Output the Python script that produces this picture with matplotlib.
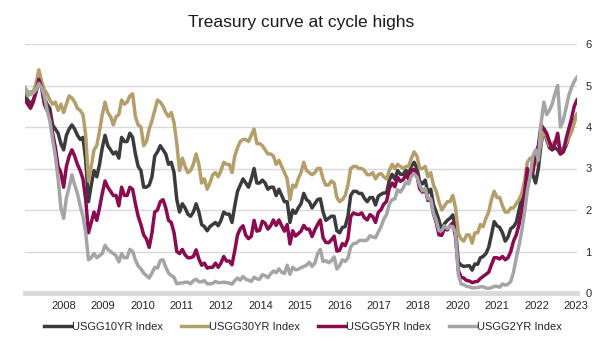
import numpy as np
import matplotlib
matplotlib.use("Agg")
import matplotlib.pyplot as plt

plt.rcParams['font.family'] = ['Liberation Sans', 'DejaVu Sans']

# monthly yields, Jan 2007 .. Sep 2023 (one row per year)
usgg10 = [
    4.75, 4.65, 4.55, 4.65, 4.85, 5.15, 5.00, 4.70, 4.55, 4.45, 4.05, 3.95,
    3.85, 3.60, 3.45, 3.80, 3.95, 4.05, 3.95, 3.80, 3.70, 3.75, 3.20, 2.20,
    2.60, 2.95, 2.80, 3.10, 3.50, 3.80, 3.55, 3.45, 3.35, 3.40, 3.25, 3.75,
    3.65, 3.65, 3.85, 3.75, 3.35, 3.05, 2.95, 2.55, 2.55, 2.60, 2.80, 3.30,
    3.40, 3.55, 3.45, 3.35, 3.10, 3.15, 2.90, 2.25, 1.95, 2.15, 2.05, 1.90,
    1.85, 1.95, 2.15, 1.95, 1.65, 1.60, 1.50, 1.60, 1.65, 1.70, 1.62, 1.75,
    1.95, 1.90, 1.90, 1.70, 2.10, 2.45, 2.60, 2.75, 2.65, 2.55, 2.75, 3.00,
    2.65, 2.65, 2.72, 2.65, 2.50, 2.55, 2.55, 2.35, 2.50, 2.35, 2.20, 2.20,
    1.70, 2.00, 1.92, 2.05, 2.15, 2.40, 2.25, 2.20, 2.05, 2.15, 2.25, 2.27,
    1.95, 1.75, 1.80, 1.85, 1.85, 1.50, 1.45, 1.58, 1.60, 1.85, 2.35, 2.45,
    2.45, 2.40, 2.40, 2.28, 2.20, 2.30, 2.30, 2.12, 2.33, 2.38, 2.41, 2.41,
    2.72, 2.86, 2.74, 2.95, 2.86, 2.86, 2.96, 2.86, 3.06, 3.15, 3.01, 2.69,
    2.63, 2.72, 2.41, 2.50, 2.13, 1.95, 1.75, 1.50, 1.67, 1.75, 1.80, 1.88,
    1.55, 0.75, 0.67, 0.64, 0.65, 0.66, 0.55, 0.70, 0.69, 0.85, 0.88, 0.95,
    1.10, 1.40, 1.72, 1.62, 1.58, 1.45, 1.25, 1.35, 1.55, 1.60, 1.70, 2.00,
    2.30, 2.55, 2.80, 2.95, 2.85, 2.65, 3.00, 3.60, 3.95, 3.70, 3.50, 3.45,
    3.50, 3.45, 3.35, 3.40, 3.55, 3.75, 3.90, 4.15, 4.30,
]
usgg30 = [
    4.90, 4.75, 4.85, 4.85, 5.05, 5.38, 5.10, 4.90, 4.80, 4.65, 4.55, 4.60,
    4.40, 4.55, 4.35, 4.55, 4.75, 4.70, 4.60, 4.45, 4.40, 4.30, 3.80, 2.70,
    3.05, 3.45, 3.55, 3.90, 4.30, 4.60, 4.35, 4.25, 4.05, 4.25, 4.30, 4.65,
    4.55, 4.60, 4.75, 4.80, 4.25, 4.05, 4.00, 3.55, 3.65, 3.95, 4.15, 4.40,
    4.65, 4.60, 4.50, 4.35, 4.25, 4.35, 4.10, 3.60, 2.95, 3.25, 3.05, 2.90,
    2.95, 3.10, 3.35, 3.10, 2.65, 2.75, 2.50, 2.65, 2.85, 2.90, 2.80, 2.95,
    3.15, 3.10, 3.10, 2.90, 3.30, 3.50, 3.65, 3.70, 3.70, 3.65, 3.80, 3.95,
    3.60, 3.60, 3.55, 3.45, 3.35, 3.35, 3.30, 3.10, 3.20, 3.05, 2.90, 2.75,
    2.25, 2.60, 2.55, 2.75, 2.90, 3.15, 2.95, 2.90, 2.85, 2.90, 3.00, 3.00,
    2.75, 2.60, 2.60, 2.70, 2.65, 2.30, 2.20, 2.25, 2.35, 2.60, 3.00, 3.05,
    3.05, 3.00, 3.00, 2.95, 2.85, 2.85, 2.90, 2.75, 2.85, 2.88, 2.80, 2.75,
    2.95, 3.10, 3.00, 3.10, 3.05, 3.00, 3.05, 3.05, 3.25, 3.40, 3.30, 3.00,
    3.00, 3.05, 2.80, 2.90, 2.60, 2.45, 2.20, 2.00, 2.10, 2.20, 2.20, 2.35,
    2.05, 1.45, 1.30, 1.25, 1.40, 1.40, 1.20, 1.45, 1.45, 1.65, 1.60, 1.80,
    1.95, 2.25, 2.45, 2.30, 2.30, 2.10, 1.95, 1.95, 2.05, 2.05, 2.15, 2.25,
    2.40, 2.70, 3.15, 3.25, 3.20, 3.10, 3.30, 3.65, 3.95, 3.75, 3.55, 3.60,
    3.65, 3.60, 3.45, 3.50, 3.60, 3.75, 3.90, 4.10, 4.30,
]
usgg5 = [
    4.65, 4.55, 4.45, 4.60, 4.85, 5.15, 4.95, 4.55, 4.40, 4.30, 3.85, 3.50,
    3.05, 2.90, 2.55, 3.05, 3.30, 3.45, 3.30, 3.10, 2.95, 2.75, 2.25, 1.45,
    1.70, 1.95, 1.75, 2.05, 2.40, 2.70, 2.55, 2.45, 2.35, 2.35, 2.10, 2.55,
    2.35, 2.35, 2.55, 2.50, 2.15, 1.85, 1.65, 1.40, 1.30, 1.10, 1.45, 1.95,
    2.00, 2.20, 2.25, 2.05, 1.75, 1.70, 1.45, 1.00, 0.95, 1.05, 0.92, 0.85,
    0.85, 0.88, 1.04, 0.82, 0.67, 0.72, 0.60, 0.62, 0.62, 0.72, 0.62, 0.72,
    0.88, 0.77, 0.77, 0.68, 1.02, 1.40, 1.55, 1.62, 1.39, 1.31, 1.37, 1.75,
    1.49, 1.51, 1.73, 1.68, 1.54, 1.62, 1.76, 1.63, 1.76, 1.62, 1.49, 1.65,
    1.18, 1.50, 1.37, 1.43, 1.49, 1.63, 1.54, 1.54, 1.36, 1.52, 1.65, 1.76,
    1.33, 1.22, 1.21, 1.28, 1.37, 1.01, 1.03, 1.19, 1.14, 1.31, 1.84, 1.93,
    1.90, 1.89, 1.93, 1.81, 1.76, 1.89, 1.84, 1.70, 1.94, 2.01, 2.14, 2.21,
    2.52, 2.65, 2.56, 2.79, 2.69, 2.73, 2.85, 2.74, 2.95, 2.98, 2.83, 2.51,
    2.43, 2.51, 2.23, 2.28, 1.91, 1.70, 1.40, 1.39, 1.55, 1.52, 1.62, 1.69,
    1.35, 0.55, 0.38, 0.36, 0.30, 0.29, 0.25, 0.27, 0.28, 0.35, 0.40, 0.45,
    0.50, 0.68, 0.85, 0.85, 0.82, 0.88, 0.80, 0.85, 1.00, 1.25, 1.40, 1.65,
    1.95, 2.40, 3.00, 2.85, 2.90, 3.35, 3.55, 4.05, 3.95, 3.85, 3.65, 3.45,
    3.60, 3.85, 3.35, 3.40, 3.70, 3.95, 4.20, 4.50, 4.65,
]
usgg2 = [
    4.95, 4.85, 4.78, 4.82, 4.90, 5.05, 4.95, 4.75, 4.40, 4.15, 3.70, 3.30,
    2.75, 2.05, 1.80, 2.30, 2.55, 2.85, 2.60, 2.40, 2.10, 1.85, 1.45, 0.80,
    0.85, 0.95, 0.85, 0.90, 0.95, 1.15, 1.05, 1.00, 0.95, 0.90, 0.75, 0.95,
    0.85, 0.85, 1.05, 1.00, 0.80, 0.65, 0.58, 0.48, 0.42, 0.36, 0.48, 0.62,
    0.60, 0.78, 0.80, 0.62, 0.48, 0.42, 0.38, 0.22, 0.24, 0.24, 0.26, 0.26,
    0.22, 0.30, 0.33, 0.27, 0.27, 0.30, 0.22, 0.22, 0.23, 0.28, 0.25, 0.25,
    0.26, 0.25, 0.24, 0.21, 0.30, 0.36, 0.31, 0.40, 0.33, 0.31, 0.28, 0.38,
    0.34, 0.33, 0.44, 0.42, 0.37, 0.46, 0.53, 0.49, 0.58, 0.50, 0.47, 0.67,
    0.45, 0.62, 0.56, 0.57, 0.61, 0.64, 0.67, 0.74, 0.64, 0.72, 0.94, 1.05,
    0.76, 0.78, 0.73, 0.78, 0.87, 0.58, 0.66, 0.80, 0.76, 0.84, 1.11, 1.19,
    1.20, 1.26, 1.27, 1.26, 1.28, 1.38, 1.35, 1.33, 1.47, 1.60, 1.78, 1.89,
    2.14, 2.25, 2.27, 2.49, 2.43, 2.53, 2.67, 2.63, 2.82, 2.87, 2.80, 2.60,
    2.46, 2.52, 2.27, 2.27, 1.92, 1.75, 1.50, 1.50, 1.62, 1.55, 1.61, 1.60,
    1.45, 0.45, 0.22, 0.20, 0.16, 0.15, 0.12, 0.13, 0.13, 0.15, 0.15, 0.12,
    0.11, 0.13, 0.16, 0.16, 0.14, 0.22, 0.19, 0.21, 0.28, 0.50, 0.85, 1.15,
    1.50, 1.95, 2.45, 2.80, 3.30, 3.45, 3.20, 4.10, 4.60, 4.30, 4.40, 4.55,
    4.80, 5.00, 4.00, 4.15, 4.45, 4.75, 4.95, 5.10, 5.20,
]

names = ['USGG10YR Index', 'USGG30YR Index', 'USGG5YR Index', 'USGG2YR Index']
colors = ['#3b3b3d', '#b49f6a', '#8a0b4f', '#a5a5a8']
year_labels = ['2008', '2009', '2010', '2011', '2012', '2014', '2015',
               '2016', '2017', '2018', '2020', '2021', '2022', '2023']

x = 2007 + np.arange(len(usgg10)) / 12

fig = plt.figure(figsize=(6, 3.46), dpi=100)
ax = fig.add_axes([25/600, 1 - 293/346, 552/600, 249/346])

for vals, c, n in zip([usgg10, usgg30, usgg5, usgg2], colors, names):
    ax.plot(x, vals, color=c, lw=2.5, label=n, solid_joinstyle='round')

ax.set_xlim(x[0], x[-1])
ax.set_ylim(0, 6)
ax.set_yticks(range(7))
ax.yaxis.tick_right()
ax.grid(axis='y', color='#d9d9d9', lw=1)
ax.set_axisbelow(True)
ax.axhline(0, color='#d9d9d9', lw=3.5, zorder=0.5, clip_on=False)
for s in ax.spines.values():
    s.set_visible(False)

ticks = 2007 + np.linspace(13.95, 199.6, len(year_labels)) / 12
ax.set_xticks(ticks)
ax.set_xticklabels(year_labels)
ax.tick_params(axis='both', length=0, labelsize=8, colors='#262626')
ax.tick_params(axis='x', pad=6)
ax.tick_params(axis='y', pad=6)

fig.text(0.5025, 1 - 23/346, 'Treasury curve at cycle highs',
         ha='center', va='center', fontsize=12.5, color='#1a1a1a')

fig.legend(loc='center', bbox_to_anchor=(0.505, 1 - 327/346), ncol=4,
           frameon=False, fontsize=8, handlelength=2.4, handletextpad=0.15,
           columnspacing=1.6, labelcolor='#262626')

fig.savefig('out.png', dpi=100)
